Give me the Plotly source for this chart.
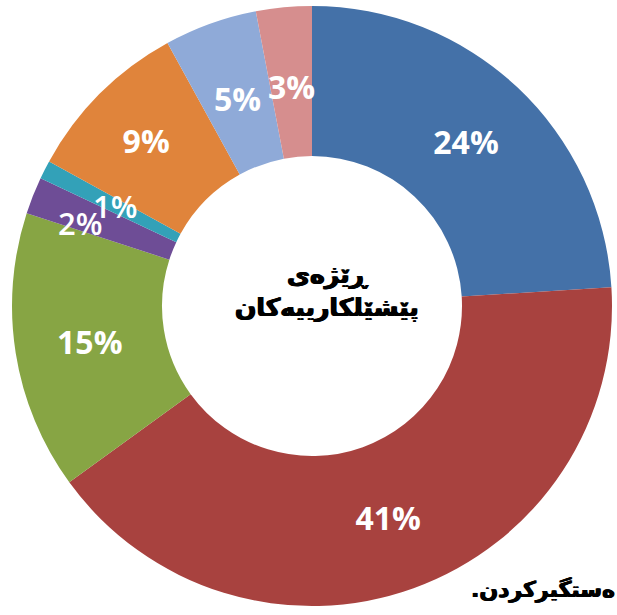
import math
import plotly.graph_objects as go

categories = ["A", "B", "C", "D", "E", "F", "G", "H"]
values = [24, 41, 15, 2, 1, 9, 5, 3]
colors = ["#4471A8", "#A8423F", "#87A544", "#6E4D96", "#33A1B8", "#E0843B", "#8FAAD8", "#D68E8E"]
center_title = "ڕێژەی<br>پێشێلکارییەکان"
footer_text = ".ەستگیرکردن"

SMALL = 6  # slices below this value get their label drawn as an annotation
HOLE = 0.5

text_pos = ["none" if v < SMALL else "inside" for v in values]

fig = go.Figure(go.Pie(
    labels=categories,
    values=values,
    sort=False,
    direction="clockwise",
    rotation=0,
    hole=HOLE,
    marker=dict(colors=colors, line=dict(color="white", width=0)),
    texttemplate="%{value}%",
    textposition=text_pos,
    insidetextorientation="horizontal",
    textfont=dict(family="Open Sans", size=32, color="white", weight="bold"),
    hoverinfo="skip",
    showlegend=False,
))

# labels of the thin slices, placed at each slice's mid-angle in the ring
total = sum(values)
cum = 0
radial = {2: 0.83}
for v in values:
    mid = (cum + v / 2) / total * 2 * math.pi
    cum += v
    if v >= SMALL:
        continue
    r = 0.5 * radial.get(v, 0.735)
    fig.add_annotation(
        x=0.5 + r * math.sin(mid), y=0.5 + r * math.cos(mid) - (0.015 if v == 2 else 0),
        xref="paper", yref="paper", showarrow=False,
        xanchor="center", yanchor="middle",
        text=f"{v}%",
        font=dict(family="Open Sans", size=32 if v >= 3 else 31, color="white",
                  weight="bold" if v >= 3 else 600),
    )

fig.add_annotation(
    x=0.525, y=0.525, xref="paper", yref="paper",
    xanchor="center", yanchor="middle",
    text="<b>" + center_title + "</b>", showarrow=False,
    font=dict(family="DejaVu Sans", size=25, color="black",
              shadow="0.7px 0 0 black, -0.7px 0 0 black"),
    align="center",
)
fig.add_annotation(
    x=1.008, y=0.028, xref="paper", yref="paper",
    xanchor="right", yanchor="middle",
    text="<b>" + footer_text + "</b>", showarrow=False,
    font=dict(family="DejaVu Sans", size=22, color="black",
              shadow="0.6px 0 0 black, -0.6px 0 0 black"),
)

fig.update_layout(
    width=617, height=615,
    margin=dict(l=12, r=5, t=6, b=9),
    paper_bgcolor="white",
    plot_bgcolor="white",
)

fig.write_html("out.html")
